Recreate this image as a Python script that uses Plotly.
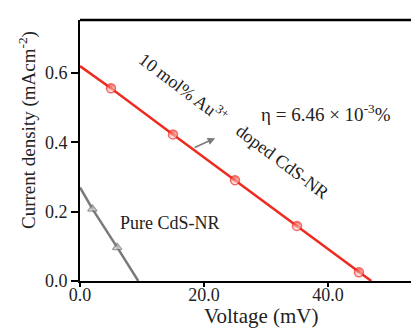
import plotly.graph_objects as go

# Data
doped_v = [0, 5, 15, 25, 35, 45, 47]
doped_j = [0.62, 0.556, 0.423, 0.291, 0.159, 0.025, 0.0]
doped_marker = [0, 9, 9, 9, 9, 9, 0]

pure_v = [0, 2, 6, 9.4]
pure_j = [0.27, 0.208, 0.097, 0.0]
pure_marker = [0, 8, 8, 0]

x_ticks = [0, 20, 40]
x_tick_text = ["0.0", "20.0", "40.0"]
y_ticks = [0, 0.2, 0.4, 0.6]
y_tick_text = ["0.0", "0.2", "0.4", "0.6"]

FONT = "Liberation Serif"
RED = "#ee2b1f"
GRAY = "#7a7a7a"
TXT = "#222222"

fig = go.Figure()
fig.add_trace(go.Scatter(
    x=doped_v, y=doped_j, mode="lines+markers",
    line=dict(color=RED, width=2.5),
    marker=dict(symbol="circle", size=doped_marker, color=RED,
                gradient=dict(type="vertical", color="white"),
                line=dict(color=RED, width=1.5)),
    cliponaxis=False, showlegend=False))
fig.add_trace(go.Scatter(
    x=pure_v, y=pure_j, mode="lines+markers",
    line=dict(color=GRAY, width=2.5),
    marker=dict(symbol="triangle-up", size=pure_marker, color=GRAY,
                gradient=dict(type="vertical", color="white"),
                line=dict(color=GRAY, width=1.5)),
    cliponaxis=False, showlegend=False))

fig.update_layout(
    width=411, height=329,
    margin=dict(l=80, r=0, t=20, b=48),
    paper_bgcolor="white", plot_bgcolor="white",
    font=dict(family=FONT, color=TXT),
    xaxis=dict(range=[0, 53.4], tickvals=x_ticks, ticktext=x_tick_text,
               showgrid=False, zeroline=False, showline=True,
               linecolor="black", linewidth=2, ticks="outside",
               ticklen=4, tickwidth=2, tickcolor="black",
               ticklabelstandoff=-8,
               tickfont=dict(size=18, family=FONT, color=TXT)),
    yaxis=dict(range=[0, 0.753], tickvals=y_ticks, ticktext=y_tick_text,
               showgrid=False, zeroline=False, showline=True,
               linecolor="black", linewidth=2, ticks="outside",
               ticklen=7, tickwidth=2, tickcolor="black",
               tickfont=dict(size=18, family=FONT, color=TXT)),
    shapes=[dict(type="line", xref="paper", yref="paper",
                 x0=0, x1=1, y0=1, y1=1,
                 line=dict(color="black", width=2.5))],
)

def txt(text, x, y, size, angle=0, xref="x", yref="y"):
    return dict(text=text, x=x, y=y, xref=xref, yref=yref, textangle=angle,
                xanchor="center", yanchor="middle", showarrow=False,
                font=dict(size=size, family=FONT, color=TXT))

ann = [
    txt("Voltage (mV)", (261 - 80) / 331, (281 - 316) / 261, 21, xref="paper", yref="paper"),
    txt("Current density (mAcm<sup>-2</sup>)", (27 - 80) / 331, (281 - 130) / 261, 19,
        angle=-90, xref="paper", yref="paper"),
    txt("10 mol% Au<sup>3+</sup>", 16.6, 0.557, 18, angle=37),
    txt("doped CdS-NR", 32.7, 0.343, 18, angle=37),
    txt("η = 6.46 × 10<sup>-3</sup>%", 39.7, 0.485, 19),
    txt("Pure CdS-NR", 14.5, 0.167, 18),
    dict(text="", x=21.8, y=0.412, ax=-22, ay=10,
         showarrow=True, arrowhead=2, arrowsize=1, arrowwidth=1.5,
         arrowcolor=GRAY),
]
fig.update_layout(annotations=ann)

fig.write_html("out.html")
